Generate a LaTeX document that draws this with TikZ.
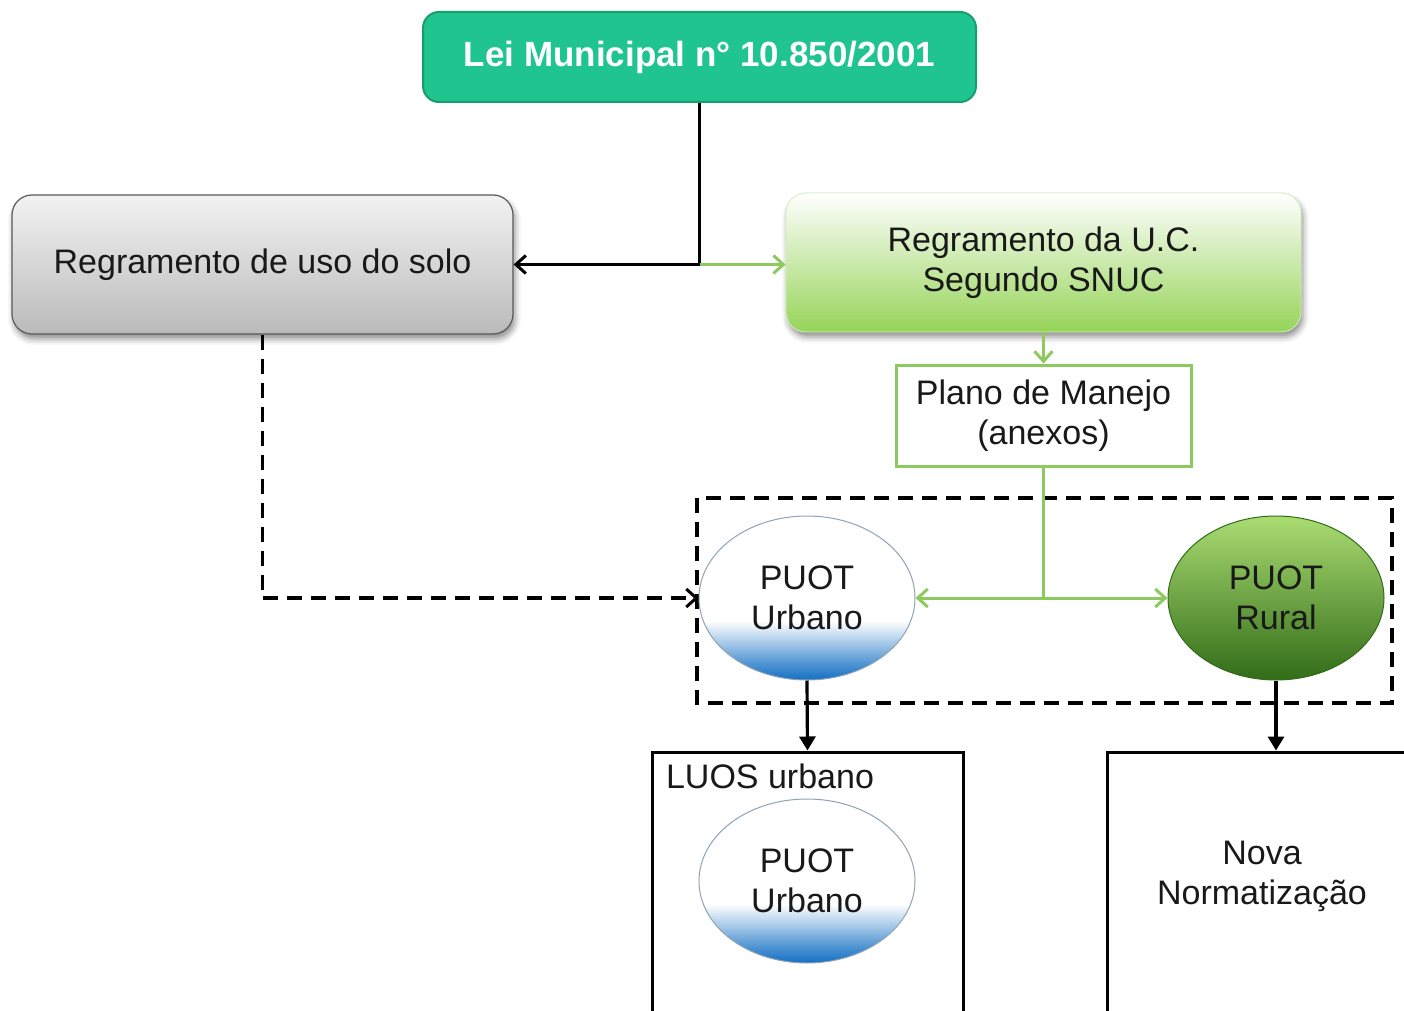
\documentclass[tikz,border=0pt]{standalone}
\usepackage{fontspec}
\setmainfont{Liberation Sans}
\usetikzlibrary{arrows.meta,shapes.geometric,shadows.blur}
\definecolor{leigreen}{RGB}{32,196,142}
\definecolor{leiborder}{RGB}{22,158,110}
\definecolor{snucgreen}{RGB}{150,212,88}
\definecolor{linegreen}{RGB}{140,202,96}
\definecolor{urbblue}{RGB}{20,112,196}
\definecolor{rurlight}{RGB}{170,220,114}
\definecolor{rurmid}{RGB}{108,172,60}
\definecolor{rurdark}{RGB}{50,108,24}
\pgfdeclareverticalshading{urbshade}{100bp}{color(0bp)=(urbblue); color(25bp)=(urbblue); color(30bp)=(urbblue!75); color(36bp)=(urbblue!40); color(43bp)=(white); color(100bp)=(white)}
\tikzset{
	boxtext/.style={font=\fontsize{17}{20}\selectfont, text=black!90, align=center},
	leibox/.style={draw=leiborder, fill=leigreen, line width=1pt, rounded corners=8pt,
			minimum width=276.5pt, minimum height=45pt, text=white,
			font=\bfseries\fontsize{17.5}{20}\selectfont},
	softshadow/.style={blur shadow={shadow xshift=1pt, shadow yshift=-2.5pt,
					shadow blur radius=3pt, shadow opacity=45}},
	solobox/.style={boxtext, draw=black!65, line width=0.6pt, rounded corners=10pt,
			top color=black!5, bottom color=black!27, softshadow,
			minimum width=250.5pt, minimum height=69.5pt},
	snucbox/.style={boxtext, draw=snucgreen!40, line width=0.4pt, rounded corners=10pt,
			top color=white, bottom color=snucgreen, softshadow,
			minimum width=257.5pt, minimum height=69.5pt},
	planobox/.style={boxtext, draw=linegreen, line width=1.5pt, fill=white,
			minimum width=147.5pt, minimum height=50.5pt},
	puot/.style={boxtext, ellipse, minimum width=108pt, minimum height=82pt, inner sep=0pt},
	puoturb/.style={puot, draw=urbblue!45!black!45, line width=0.5pt, shading=urbshade},
	puotrur/.style={puot, draw=rurdark, line width=0.5pt,
			top color=rurlight, middle color=rurmid, bottom color=rurdark},
	lawbox/.style={draw=black, line width=1.5pt, fill=white,
			minimum width=155.5pt, minimum height=148pt},
	blackline/.style={draw=black, line width=1.6pt},
	greenline/.style={draw=linegreen, line width=1.5pt},
	dashline/.style={draw=black, line width=1.6pt, dash pattern=on 7.5pt off 4.5pt},
	barb/.style={-{Straight Barb[length=5pt, width=9pt, line width=1.5pt]}},
	tri/.style={-{Triangle[length=7pt, width=8pt]}}
}

\begin{document}
\begin{tikzpicture}[x=0.5pt, y=-0.5pt]

	\useasboundingbox (0,0) rectangle (1404,1011);
	\clip (0,0) rectangle (1404,1011);

	% Top law and the two rule sets
	\node[leibox] (lei) at (699.5,57) {Lei Municipal n° 10.850/2001};
	\node[solobox] (solo) at (262.5,264.5) {Regramento de uso do solo};
	\node[snucbox] (snuc) at (1043.5,262.5) {Regramento da U.C.\\Segundo SNUC};
	\node[planobox] (plano) at (1043.5,415.5) {Plano de Manejo\\(anexos)};

	% Dashed frame round the two PUOT
	\draw[dashline] (697,498) rectangle (1392,703);
	\node[puoturb] (urb) at (807,598) {PUOT\\Urbano};
	\node[puotrur] (rur) at (1276,598) {PUOT\\Rural};

	% Lower boxes
	\node[lawbox] (luos) at (807.5,900) {};
	\node[boxtext, anchor=west] (luostext) at (659,776) {LUOS urbano};
	\node[puoturb] (urbin) at (807,881) {PUOT\\Urbano};
	\node[lawbox] (nova) at (1262.5,900) {};
	\node[boxtext] (novatext) at (1262,876) {Nova\\Normatização};

	% Connectors
	\draw[blackline, barb] (lei.south) |- (solo.east);
	\coordinate (split) at (lei.south |- solo.east);
	\draw[greenline, barb] (split) -- (split -| snuc.west);
	\draw[greenline, barb] (snuc.south) -- (plano.north);
	\coordinate (fork) at (plano.south |- urb.east);
	\draw[greenline] (plano.south) -- (fork);
	\draw[greenline, barb] (fork) -- (urb.east);
	\draw[greenline, barb] (fork) -- (rur.west);
	\draw[dashline, barb] (solo.south) |- (urb.west);
	\draw[blackline, tri] (urb.south) -- (luos.north);
	\draw[blackline, tri] (rur.south) -- (rur.south |- nova.north);

\end{tikzpicture}
\end{document}
